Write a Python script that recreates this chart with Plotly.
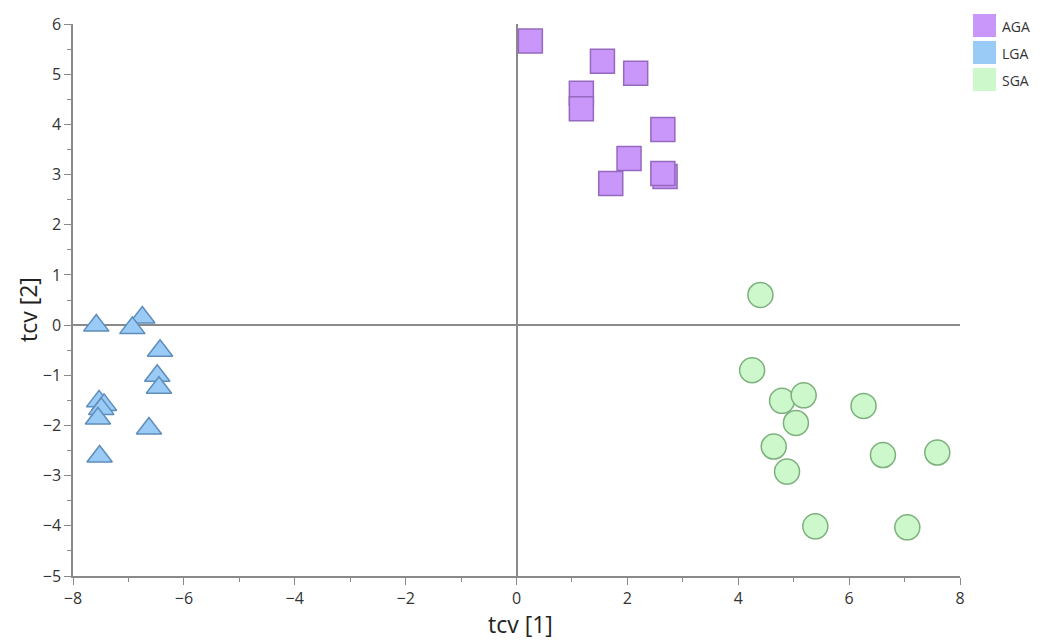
import plotly.graph_objects as go

# ---- data ----
groups = ["AGA", "LGA", "SGA"]

aga_x = [0.25, 1.55, 2.15, 1.17, 1.17, 2.64, 2.03, 1.70, 2.68, 2.64]
aga_y = [5.66, 5.26, 5.02, 4.62, 4.31, 3.90, 3.32, 2.82, 2.96, 3.02]

lga_x = [-7.58, -6.75, -6.93, -6.43, -6.48, -6.45, -7.53, -7.44, -7.49, -7.55, -6.63, -7.52]
lga_y = [-0.01, 0.15, -0.06, -0.51, -1.01, -1.25, -1.52, -1.59, -1.67, -1.86, -2.06, -2.62]

sga_x = [4.40, 4.25, 4.79, 5.18, 6.26, 5.04, 4.64, 6.61, 7.59, 4.88, 5.39, 7.05]
sga_y = [0.60, -0.90, -1.51, -1.40, -1.61, -1.95, -2.42, -2.59, -2.54, -2.92, -4.01, -4.03]

x_title = "tcv [1]"
y_title = "tcv [2]"

# ---- styles ----
fills = ["#C996FA", "#9ACBF7", "#CCF8CC"]
edges = ["#9569BE", "#5E8DB9", "#7DB07D"]
symbols = ["square", "triangle-up", "circle"]
sizes = [24, 22, 25]
FONT = "Open Sans, Noto Sans, sans-serif"

OFF = 8  # page body margin
W, H = 1043 - OFF, 641 - OFF
L, R, T, B = 73 - OFF, 960 - OFF, 24 - OFF, 576 - OFF
PW, PH = R - L, B - T

fig = go.Figure()
series = [(aga_x, aga_y), (lga_x, lga_y), (sga_x, sga_y)]
for i, (xs, ys) in enumerate(series):
    fig.add_trace(go.Scatter(
        x=xs, y=ys, mode="markers", name=groups[i], showlegend=False,
        marker=dict(symbol=symbols[i], size=sizes[i], color=fills[i],
                    line=dict(color=edges[i], width=1.5), opacity=1),
        cliponaxis=False,
    ))

# custom legend (coloured squares + labels)
shapes = []
annotations = []
for i, g in enumerate(groups):
    top = 14 + i * 27 - OFF
    shapes.append(dict(type="rect", xref="paper", yref="paper",
                       x0=(973 - OFF - L) / PW, x1=(996 - OFF - L) / PW,
                       y0=(B - (top + 23)) / PH, y1=(B - top) / PH,
                       fillcolor=fills[i], line=dict(width=0)))
    annotations.append(dict(text=g, xref="paper", yref="paper",
                            x=(1000 - OFF - L) / PW, y=(B - (top + 12)) / PH,
                            xanchor="left", yanchor="middle", showarrow=False,
                            font=dict(family=FONT, size=14, color="#333333")))

# axis titles
annotations.append(dict(text=x_title, xref="paper", yref="paper",
                        x=(520 - OFF - L) / PW, y=(B - (624 - OFF)) / PH,
                        xanchor="center", yanchor="middle", showarrow=False,
                        font=dict(family=FONT, size=23, color="#222222")))
annotations.append(dict(text=y_title, xref="paper", yref="paper",
                        x=(28 - OFF - L) / PW, y=(B - (310 - OFF)) / PH,
                        xanchor="center", yanchor="middle",
                        showarrow=False, textangle=-90,
                        font=dict(family=FONT, size=23, color="#222222")))

axis_common = dict(
    showgrid=False, zeroline=True, zerolinecolor="#8A8A8A", zerolinewidth=1.5,
    showline=True, linecolor="#8A8A8A", linewidth=1.5,
    ticks="outside", tickcolor="#8A8A8A", ticklen=7, tickwidth=1,
    tickfont=dict(family=FONT, size=16, color="#333333"),
    automargin=False,
)

fig.update_layout(
    width=W, height=H,
    margin=dict(l=L, r=W - R, t=T, b=H - B, autoexpand=False),
    paper_bgcolor="white", plot_bgcolor="white",
    shapes=shapes, annotations=annotations,
    xaxis=dict(range=[-8, 8], dtick=2, tick0=-8,
               minor=dict(dtick=1, ticks="outside", ticklen=4, tickcolor="#8A8A8A"),
               **axis_common),
    yaxis=dict(range=[-5, 6], dtick=1, tick0=0,
               minor=dict(dtick=0.5, ticks="outside", ticklen=4, tickcolor="#8A8A8A"),
               **axis_common),
)

fig.write_html("out.html")
